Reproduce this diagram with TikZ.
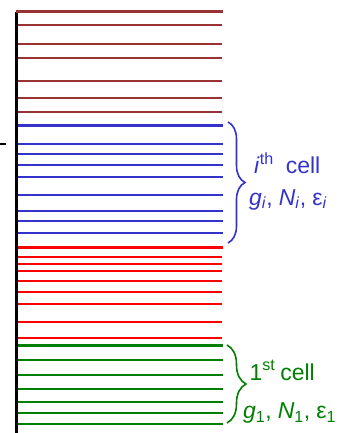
\documentclass[tikz,border=0pt]{standalone}
\usepackage{fontspec}
\setmainfont{Liberation Sans}
\usetikzlibrary{decorations.pathreplacing}
\definecolor{brownlvl}{RGB}{153,51,51}
\definecolor{bluelvl}{RGB}{51,51,204}
\definecolor{greenlvl}{RGB}{0,128,0}
\begin{document}
\begin{tikzpicture}[x=1pt,y=-1pt,
font=\fontsize{23}{27}\selectfont,
lvl/.style={line width=1.9pt},
edge/.style={line width=3.4pt},
brc/.style={decorate, decoration={brace, amplitude=#1}, line width=1.6pt},
lbl/.style={anchor=base west, inner sep=0pt}
]
\useasboundingbox (0,0) rectangle (340,433);
% energy axis and tick
\draw[line width=3.5pt] (16.3,12) -- (16.3,433);
\draw[line width=2pt] (0,144.3) -- (6,144.3);
% top band
\draw[edge, brownlvl] (16,11.7) -- (222.7,11.7);
\foreach \y in {24.7,43.7,58,80.7,97.7,111.7}
  \draw[lvl, brownlvl] (18,\y) -- (222,\y);
% i-th cell
\draw[edge, bluelvl] (18,125.5) -- (222.7,125.5);
\foreach \y in {144,153.7,164.7,177.3,195,210.7,221,233.3}
  \draw[lvl, bluelvl] (18,\y) -- (222.7,\y);
% band between
\draw[edge, red] (18,247.3) -- (222.7,247.3);
\foreach \y in {256.7,264.3,270.7,280.7,291.7,304.3,322,337.7}
  \draw[lvl, red] (18,\y) -- (222,\y);
% 1st cell
\draw[edge, greenlvl] (18,345.7) -- (222.7,345.7);
\foreach \y in {359.7,374.7,389,401.7,412.7,424.3}
  \draw[lvl, greenlvl] (18,\y) -- (222.7,\y);
% braces
\coordinate (itop) at (228,122);
\coordinate (ibot) at (228,243);
\coordinate (ftop) at (227,345);
\coordinate (fbot) at (227,423);
\draw[brc=17pt, bluelvl] (itop) -- (ibot);
\draw[brc=19pt, greenlvl] (ftop) -- (fbot);
% labels
\node[lbl, text=bluelvl] (ith) at (254,173.3) {\textit{i}\textsuperscript{th}\hspace{12pt}cell};
\node[lbl, text=bluelvl] (ipar) at (249,205) {\textit{g}\textsubscript{\textit{i}},\hspace{6pt}\textit{N}\textsubscript{\textit{i}},\hspace{6pt}ε\textsubscript{\textit{i}}};
\node[lbl, text=greenlvl] (fst) at (249.3,380) {1\textsuperscript{st}\hspace{5pt}cell};
\node[lbl, text=greenlvl] (fpar) at (243,418.3) {\textit{g}\textsubscript{1},\hspace{6pt}\textit{N}\textsubscript{1},\hspace{6pt}ε\textsubscript{1}};
\end{tikzpicture}
\end{document}
